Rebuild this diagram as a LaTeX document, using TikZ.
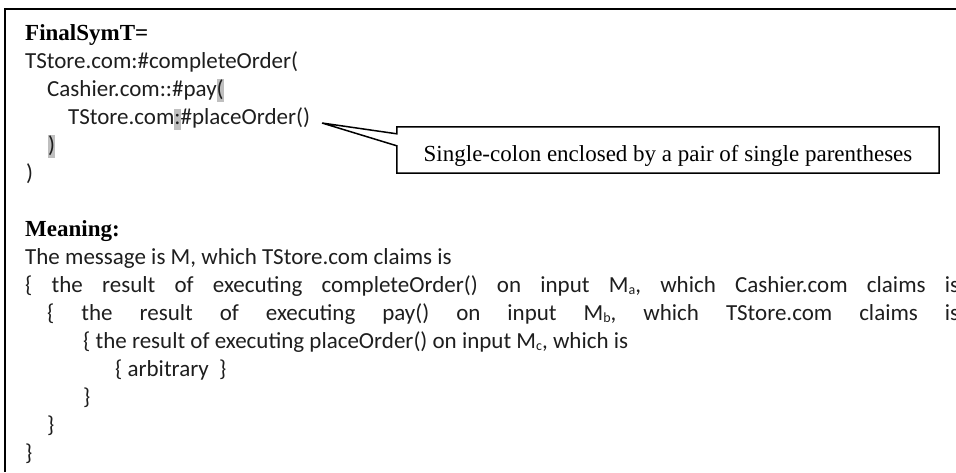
\documentclass[tikz,border=0pt]{standalone}
\usepackage{fontspec}
\setmainfont{Carlito}
\newfontfamily\tmsfont{Liberation Serif}
\usetikzlibrary{calc}
\definecolor{hlgray}{RGB}{191,191,191}
\definecolor{bodyink}{RGB}{30,30,30}
% grey highlight behind a single character
\newcommand\hlmark[1]{{\setlength{\fboxsep}{0pt}\colorbox{hlgray}{\rule[-5.5pt]{0pt}{21pt}#1}}}
% small lowered index letter (M_a, M_b, M_c)
\newcommand\lowsub[1]{\raisebox{-2.5pt}{\fontsize{14}{14}\selectfont #1}}

\begin{document}
\begin{tikzpicture}[x=1pt,y=-1pt,
  every node/.style={inner sep=0pt, anchor=base west},
  codeline/.style={font=\fontsize{23}{28}\selectfont, text=bodyink},
  heading/.style={font=\fontsize{23}{28}\selectfont\tmsfont\bfseries},
  notebox/.style={anchor=center, fill=white, font=\fontsize{23}{28}\selectfont\tmsfont,
    minimum width=542pt, text height=34pt, text depth=12pt},
  frame/.style={line width=1.8pt},
  callout/.style={line width=1.5pt, line join=miter}]
\useasboundingbox (0,0) rectangle (956,472);

% open frame: left and top rules only
\draw[frame] (5,472) -- (5,9) -- (956,9);

% symbol part
\node[heading]  (l1) at (25,40)  {FinalSymT=};
\node[codeline] (l2) at (25,68)  {TStore.com:\#completeOrder(};
\node[codeline] (l3) at (47,96)  {Cashier.com::\#pay\hlmark{(}};
\node[codeline] (l4) at (68,124) {TStore.com\hlmark{:}\#placeOrder()};
\node[codeline] (l5) at (48,152) {\hlmark{)}};
\node[codeline] (l6) at (26,180) {)};

% meaning part
\node[heading]  (l7)  at (25,236) {Meaning:};
\node[codeline] (l8)  at (25,264) {The message is M, which TStore.com claims is};
\node[codeline] (l9)  at (25,292) {\hbox to 934pt{\{\hfil the\hfil result\hfil of\hfil executing\hfil completeOrder()\hfil on\hfil input\hfil M\lowsub{a},\hfil which\hfil Cashier.com\hfil claims\hfil is}};
\node[codeline] (l10) at (47,320) {\hbox to 912pt{\{\hfil the\hfil result\hfil of\hfil executing\hfil pay()\hfil on\hfil input\hfil M\lowsub{b},\hfil which\hfil TStore.com\hfil claims\hfil is}};
\node[codeline] (l11) at (83,348) {\{ the result of executing placeOrder() on input M\lowsub{c}, which is};
\node[codeline] (l12) at (115,376) {\{ arbitrary \ \}};
\node[codeline] (l13) at (83,404) {\}};
\node[codeline] (l14) at (47,432) {\}};
\node[codeline] (l15) at (25,460) {\}};

% callout
\coordinate (tip) at (322,123);
\node[notebox] (note) at (668,150) {Single-colon enclosed by a pair of single parentheses};
\draw[callout] ($(note.north west)+(0,7)$) -- (note.north west) -- (note.north east)
  -- (note.south east) -- (note.south west) -- ($(note.north west)+(0,19)$)
  -- (tip) -- cycle;
\end{tikzpicture}
\end{document}
